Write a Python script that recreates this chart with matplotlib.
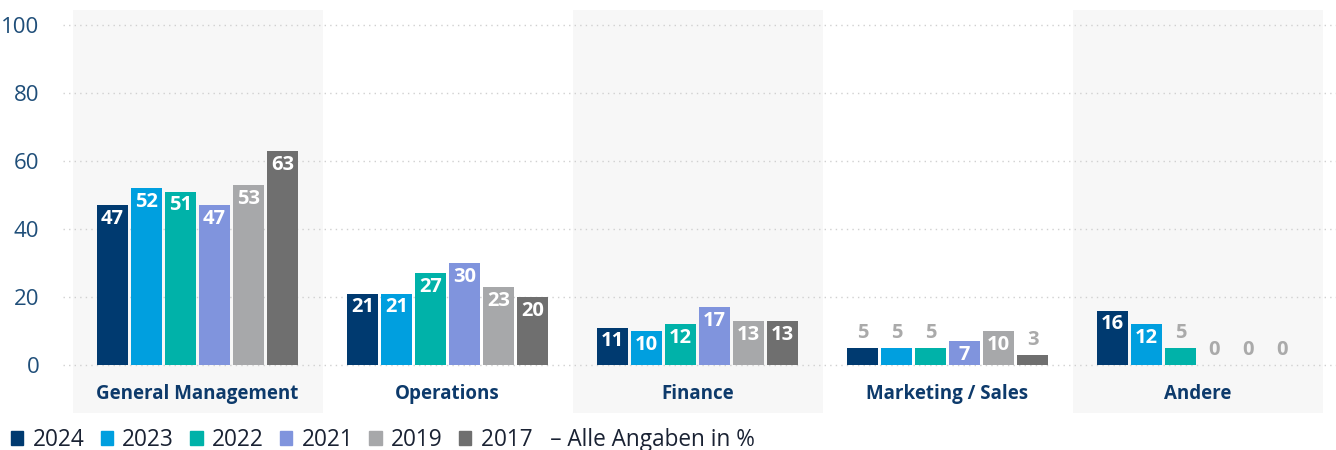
import matplotlib
matplotlib.use("Agg")
import matplotlib.pyplot as plt
import numpy as np
from matplotlib.patches import Rectangle

plt.rcParams['font.family'] = ['Open Sans', 'DejaVu Sans']

categories = ["General Management", "Operations", "Finance", "Marketing / Sales", "Andere"]
years = ["2024", "2023", "2022", "2021", "2019", "2017"]
values = {
    "2024": [47, 21, 11, 5, 16],
    "2023": [52, 21, 10, 5, 12],
    "2022": [51, 27, 12, 5, 5],
    "2021": [47, 30, 17, 7, 0],
    "2019": [53, 23, 13, 10, 0],
    "2017": [63, 20, 13, 3, 0],
}
colors = ["#003a70", "#009fdf", "#00b2a9", "#8094dd", "#a7a8aa", "#6f6f6f"]
yticks = [0, 20, 40, 60, 80, 100]
note = "– Alle Angaben in %"

W, H = 1336, 450
fig = plt.figure(figsize=(W / 100, H / 100), dpi=100)
ax = fig.add_axes([63 / W, 1 - 413 / H, (1336 - 63) / W, (413 - 10) / H])

ymin, ymax = (365 - 413) / 3.4, (365 - 10) / 3.4
ax.set_ylim(ymin, ymax)
ax.set_xlim((63 - 197.5) / 250, (1336 - 197.5) / 250)

for i in range(len(categories)):
    if i % 2 == 0:
        ax.axvspan(i - 0.5, i + 0.5, color="#f7f7f7", zorder=0, lw=0)

for t in yticks:
    ax.axhline(t, color="#d0d0d0", lw=1, ls=(0, (1, 3)), zorder=1)

x = np.arange(len(categories))
slot = 0.136
bw = 0.124
n = len(years)
for j, (yr, c) in enumerate(zip(years, colors)):
    xs = x + (j - (n - 1) / 2) * slot
    vals = values[yr]
    ax.bar(xs, vals, width=bw, color=c, zorder=2, label=yr)
    for xi, v in zip(xs, vals):
        if v > 5:
            ax.text(xi, v - 1.1, str(v), ha="center", va="top", color="white",
                    fontsize=14.5, fontweight="bold", zorder=3)
        else:
            ax.text(xi, v + 1.5, str(v), ha="center", va="bottom", color="#aaaaaa",
                    fontsize=14.5, fontweight="bold", zorder=3)

for i, cat in enumerate(categories):
    ax.text(i, -8.6, cat, ha="center", va="center", color="#0d3a6b",
            fontsize=13.5, fontweight="bold")

ax.set_yticks(yticks)
ax.set_yticklabels([str(t) for t in yticks], color="#1f4e79", fontsize=16)
ax.tick_params(axis="y", length=0, pad=17)
ax.set_xticks([])
for s in ax.spines.values():
    s.set_visible(False)
ax.patch.set_alpha(0)

handles = [Rectangle((0, 0), 1, 1, color=c) for c in colors]
labels = years[:-1] + [years[-1] + "   " + note]
leg = fig.legend(handles, labels, loc="center left", bbox_to_anchor=(11 / W, 1 - 440 / H),
                 ncol=6, frameon=False, fontsize=16.3, handlelength=0.55, handleheight=0.55,
                 handletextpad=0.4, columnspacing=0.72, borderaxespad=0, borderpad=0)
for t in leg.get_texts():
    t.set_color("#1a2233")
fig.savefig("out.png", dpi=100)
